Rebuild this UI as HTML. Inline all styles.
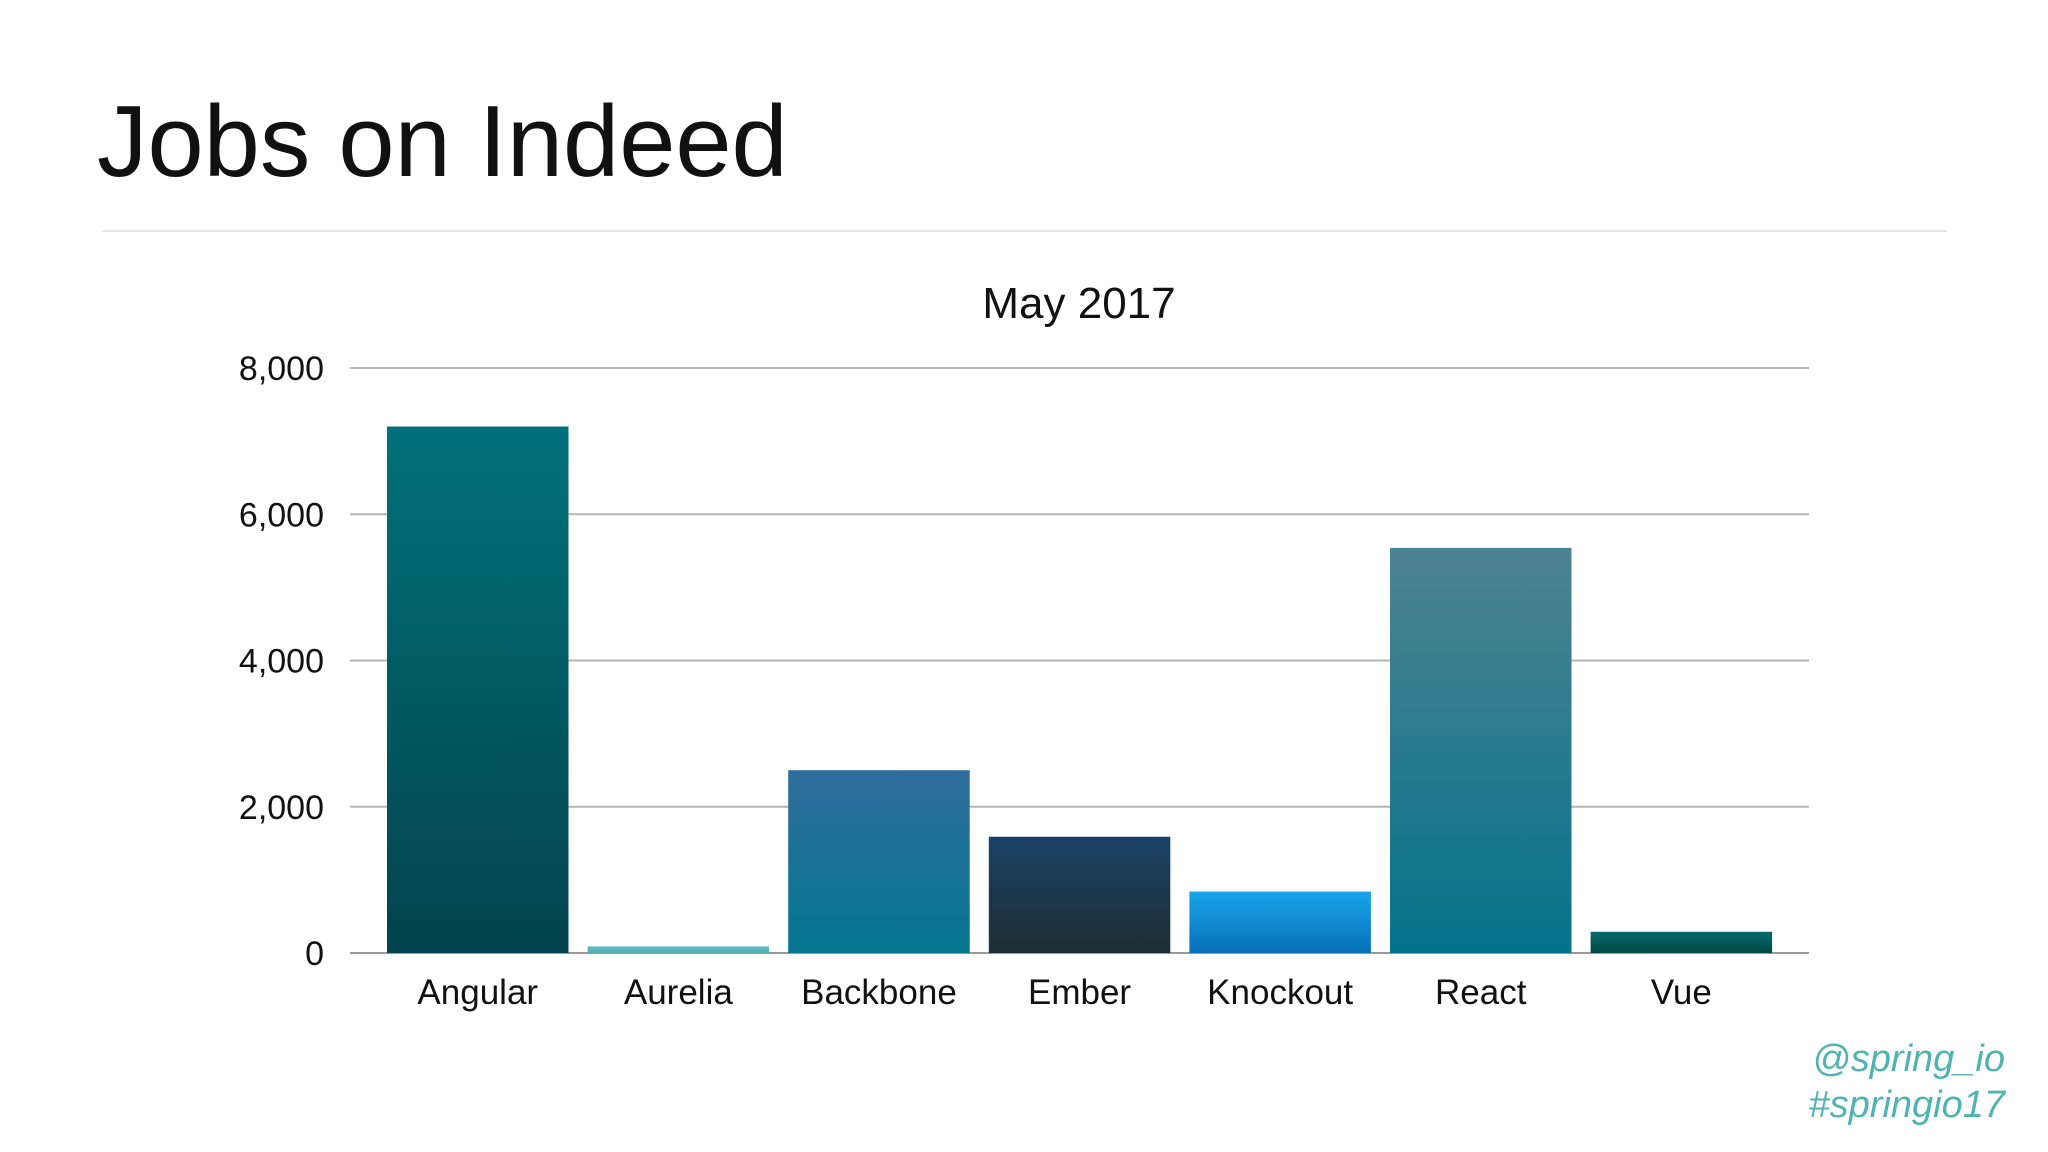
<!DOCTYPE html>
<html><head><meta charset="utf-8"><style>
html,body{margin:0;padding:0;background:#fff;width:2048px;height:1152px;overflow:hidden}
svg{display:block}
</style></head><body>
<svg id="chart" width="2048" height="1152" viewBox="0 0 2048 1152" xmlns="http://www.w3.org/2000/svg" font-family="Liberation Sans, sans-serif">
<defs>
<linearGradient id="g0" x1="0" y1="0" x2="0" y2="1"><stop offset="0" stop-color="#02717b"/><stop offset="1" stop-color="#03434d"/></linearGradient>
<linearGradient id="g1" x1="0" y1="0" x2="0" y2="1"><stop offset="0" stop-color="#5fbcc0"/><stop offset="1" stop-color="#4fb0b5"/></linearGradient>
<linearGradient id="g2" x1="0" y1="0" x2="0" y2="1"><stop offset="0" stop-color="#306d9c"/><stop offset="1" stop-color="#037690"/></linearGradient>
<linearGradient id="g3" x1="0" y1="0" x2="0" y2="1"><stop offset="0" stop-color="#1a4267"/><stop offset="1" stop-color="#1d2e33"/></linearGradient>
<linearGradient id="g4" x1="0" y1="0" x2="0" y2="1"><stop offset="0" stop-color="#1aa5ea"/><stop offset="1" stop-color="#0670b8"/></linearGradient>
<linearGradient id="g5" x1="0" y1="0" x2="0" y2="1"><stop offset="0" stop-color="#4d8392"/><stop offset="1" stop-color="#04728b"/></linearGradient>
<linearGradient id="g6" x1="0" y1="0" x2="0" y2="1"><stop offset="0" stop-color="#046c6c"/><stop offset="1" stop-color="#034747"/></linearGradient>
</defs>
<text x="97" y="176" font-size="101" fill="#111">Jobs on Indeed</text>
<line x1="102" y1="231" x2="1947" y2="231" stroke="#e2e2e2" stroke-width="2"/>
<text x="1079" y="318" font-size="44" text-anchor="middle" fill="#111">May 2017</text>
<g id="grid"></g>
<g id="bars"></g>
<g id="xlabels"></g>
<text x="2005" y="1071" font-size="38" font-style="italic" text-anchor="end" fill="#4fb3b0">@spring_io</text>
<text x="2005" y="1117" font-size="38" font-style="italic" text-anchor="end" fill="#4fb3b0">#springio17</text>
</svg>
<script>
const categories = ["Angular","Aurelia","Backbone","Ember","Knockout","React","Vue"];
const values = [7200, 90, 2500, 1590, 840, 5540, 290];
const ticks = [0, 2000, 4000, 6000, 8000];
const tickLabels = ["0","2,000","4,000","6,000","8,000"];
const NS = "http://www.w3.org/2000/svg";
const plotL = 350, plotR = 1809, y0 = 953, yTop = 368, yMax = 8000;
const firstX = 387, pitch = 200.6, barW = 181.5;
function yScale(v){ return y0 - (v / yMax) * (y0 - yTop); }
function xScale(i){ return firstX + i * pitch; }
const grid = document.getElementById('grid');
ticks.forEach((t, i) => {
  const l = document.createElementNS(NS, 'line');
  l.setAttribute('x1', plotL); l.setAttribute('x2', plotR);
  l.setAttribute('y1', yScale(t)); l.setAttribute('y2', yScale(t));
  l.setAttribute('stroke', t === 0 ? '#9a9a9a' : '#b5b5b5');
  l.setAttribute('stroke-width', '2');
  
  
  grid.appendChild(l);
  const tx = document.createElementNS(NS, 'text');
  tx.setAttribute('x', 324); tx.setAttribute('y', yScale(t) + 12);
  tx.setAttribute('font-size', '34'); tx.setAttribute('text-anchor', 'end'); tx.setAttribute('fill', '#111');
  tx.textContent = tickLabels[i];
  
  
  grid.appendChild(tx);
});
const bars = document.getElementById('bars'), xl = document.getElementById('xlabels');
categories.forEach((c, i) => {
  const r = document.createElementNS(NS, 'rect');
  const top = yScale(values[i]);
  r.setAttribute('x', xScale(i)); r.setAttribute('y', top);
  r.setAttribute('width', barW); r.setAttribute('height', y0 - top);
  r.setAttribute('fill', 'url(#g' + i + ')');
  
  
  bars.appendChild(r);
  const t = document.createElementNS(NS, 'text');
  t.setAttribute('x', xScale(i) + barW / 2); t.setAttribute('y', 1004);
  t.setAttribute('font-size', '35'); t.setAttribute('text-anchor', 'middle'); t.setAttribute('fill', '#111');
  t.textContent = c;
  
  
  xl.appendChild(t);
});
</script>
</body></html>
